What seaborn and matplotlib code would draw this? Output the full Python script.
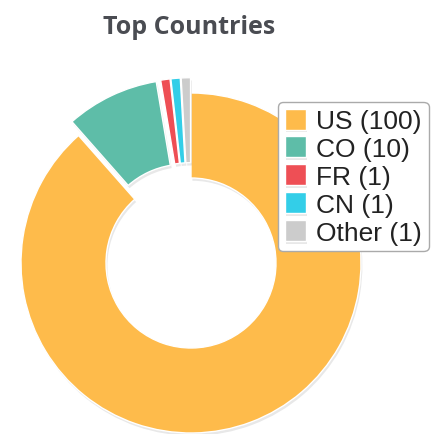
import matplotlib
matplotlib.use("Agg")
import matplotlib.pyplot as plt
import matplotlib.patheffects as pe
import seaborn as sns

# dados do grafico
paises = ["US", "CO", "FR", "CN", "Other"]
contagens = [100, 10, 1, 1, 1]
cores = ["#FEBB4B", "#5EBDA8", "#EE4F55", "#33CEE8", "#CCCCCC"]
destaque = [0, 0.09, 0.09, 0.09, 0.09]

sns.set_theme(style="white")
plt.rcParams["font.family"] = ["Liberation Sans", "DejaVu Sans"]

fig = plt.figure(figsize=(4.32, 4.35), dpi=100)
ax = fig.add_axes([0, 0, 1, 1])

legendas = [f"{p} ({c})" for p, c in zip(paises, contagens)]
fatias, _ = ax.pie(contagens, colors=cores, startangle=90, counterclock=False,
                   explode=destaque,
                   wedgeprops=dict(width=0.5, edgecolor="white", linewidth=1))
for f in fatias:
    f.set_path_effects([pe.SimplePatchShadow(offset=(1, -2), shadow_rgbFace="gray", alpha=0.18),
                        pe.Normal()])

# posiciona o centro do donut em (191, 265) px, raio 171 px
cx, cy, r = 191, 264, 170
ax.set_xlim((0 - cx) / r, (432 - cx) / r)
ax.set_ylim((cy - 435) / r, (cy - 0) / r)
ax.set_aspect("auto")
ax.axis("off")

fig.text(0.437, 1 - 27 / 435, "Top Countries", ha="center", va="center",
         fontsize=18, fontweight="bold", color="#4A4C52", family="Open Sans")

leg = ax.legend(fatias, legendas, loc="upper left",
                bbox_to_anchor=(278 / 432, 1 - 103 / 435), bbox_transform=fig.transFigure,
                fontsize=19, frameon=True, fancybox=True, framealpha=1,
                handlelength=0.8, handleheight=0.85,
                handletextpad=0.4, labelspacing=0.12, borderpad=0.25, borderaxespad=0)
leg.get_frame().set_edgecolor("#AAAAAA")
leg.get_frame().set_linewidth(1)
for t in leg.get_texts():
    t.set_color("#222222")

plt.savefig("out.png", dpi=100)
